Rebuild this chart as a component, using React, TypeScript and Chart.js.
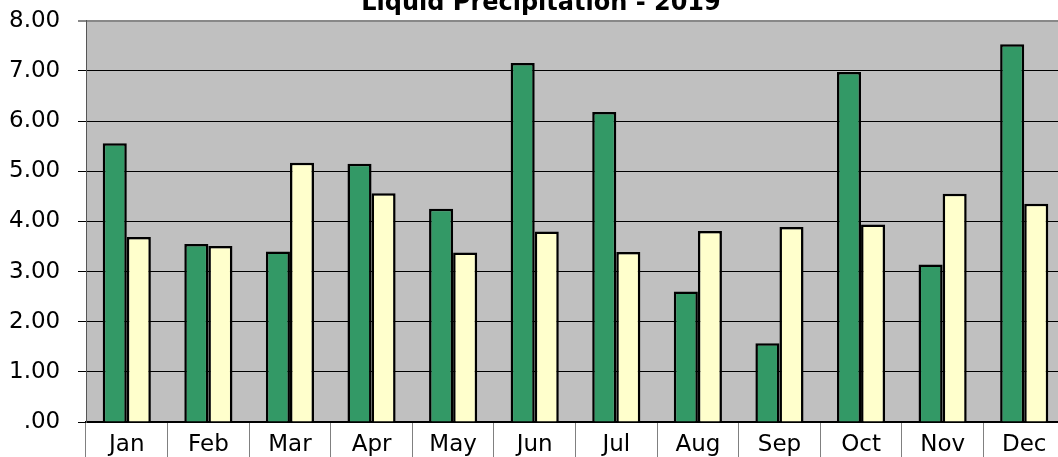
import React, { useEffect, useRef } from "react";
import { Chart, registerables } from "chart.js";

Chart.register(...registerables);

const months = ["Jan", "Feb", "Mar", "Apr", "May", "Jun", "Jul", "Aug", "Sep", "Oct", "Nov", "Dec"];
const seriesGreen = [5.56, 3.55, 3.40, 5.15, 4.25, 7.16, 6.18, 2.60, 1.57, 6.98, 3.14, 7.53];
const seriesYellow = [3.69, 3.51, 5.17, 4.56, 3.38, 3.80, 3.39, 3.81, 3.89, 3.94, 4.55, 4.35];
const titleText = "Liquid Precipitation - 2019";
const yMin = 0;
const yMax = 8;
const yStep = 1;

const plotBg = {
  id: "plotBg",
  beforeDraw(chart: any) {
    const { ctx, chartArea } = chart;
    if (!chartArea) return;
    ctx.save();
    ctx.fillStyle = "#C0C0C0";
    ctx.fillRect(chartArea.left, chartArea.top, chartArea.right - chartArea.left, chartArea.bottom - chartArea.top);
    ctx.restore();
  },
};

export default function App() {
  const ref = useRef<HTMLCanvasElement | null>(null);

  useEffect(() => {
    if (!ref.current) return;
    const chart = new Chart(ref.current, {
      type: "bar",
      data: {
        labels: months,
        datasets: [
          {
            label: "Green",
            data: seriesGreen,
            backgroundColor: "#339966",
            borderColor: "#000000",
            borderWidth: 2.5,
            categoryPercentage: 0.59,
            barPercentage: 1,
          },
          {
            label: "Yellow",
            data: seriesYellow,
            backgroundColor: "#FFFFCC",
            borderColor: "#000000",
            borderWidth: 2.5,
            categoryPercentage: 0.59,
            barPercentage: 1,
          },
        ],
      },
      options: {
        animation: false,
        responsive: false,
        devicePixelRatio: 1,
        layout: { padding: { left: 17, top: 0, bottom: 0, right: 17 } },
        plugins: {
          legend: { display: false },
          tooltip: { enabled: false },
          title: {
            display: true,
            text: titleText,
            color: "#000000",
            font: { family: "DejaVu Sans", size: 24, weight: "bold" },
            padding: { top: -3, bottom: 3 },
          },
        },
        scales: {
          x: {
            offset: true,
            grid: {
              offset: true,
              drawOnChartArea: false,
              drawTicks: true,
              tickLength: 50,
              color: "#808080",
              lineWidth: 1,
            },
            border: { display: true, color: "#000000", width: 2 },
            ticks: {
              color: "#000000",
              font: { family: "DejaVu Sans", size: 23 },
              padding: -41,
              maxRotation: 0,
              autoSkip: false,
            },
            afterFit(scale: any) {
              scale.height = 50;
            },
          },
          y: {
            min: yMin,
            max: yMax,
            grid: {
              color: (c: any) => (c.tick && c.tick.value === yMax ? "#888888" : "#000000"),
              lineWidth: (c: any) => (c.tick && c.tick.value === yMax ? 2 : 1),
              tickLength: 8,
              drawTicks: true,
            },
            border: { display: true, color: "#555555", width: 1 },
            ticks: {
              stepSize: yStep,
              color: "#000000",
              font: { family: "DejaVu Sans", size: 23 },
              mirror: true,
              crossAlign: "far",
              padding: -77,
              callback: (v: any) => (Number(v) === 0 ? ".00" : Number(v).toFixed(2)),
            },
            afterFit(scale: any) {
              scale.width = 69;
            },
          },
        },
      },
      plugins: [plotBg],
    });
    return () => chart.destroy();
  }, []);

  return (
    <div
      style={{
        position: "absolute",
        left: 0,
        top: 0,
        width: 1058,
        height: 457,
        overflow: "hidden",
        background: "#ffffff",
      }}
    >
      <canvas
        ref={ref}
        width={1082}
        height={480}
        style={{ position: "absolute", left: 0, top: -8, width: 1082, height: 480 }}
      />
    </div>
  );
}
